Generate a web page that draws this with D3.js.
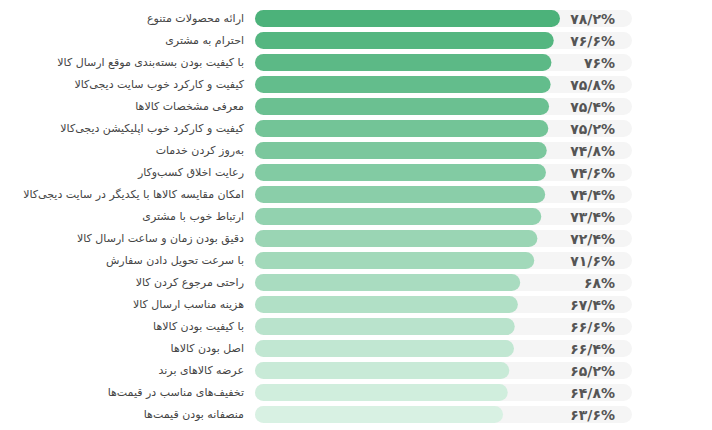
<!DOCTYPE html>
<html><head><meta charset="utf-8">
<script src="https://cdn.jsdelivr.net/npm/d3@7/dist/d3.min.js"></script>
<style>html,body{margin:0;padding:0;background:#fff;}svg{display:block;}</style>
</head><body>
<svg id="chart" width="712" height="430"></svg>
<script>
const categories = [
  "ارائه محصولات متنوع",
  "احترام به مشتری",
  "با کیفیت بودن بسته‌بندی موقع ارسال کالا",
  "کیفیت و کارکرد خوب سایت دیجی‌کالا",
  "معرفی مشخصات کالاها",
  "کیفیت و کارکرد خوب اپلیکیشن دیجی‌کالا",
  "به‌روز کردن خدمات",
  "رعایت اخلاق کسب‌وکار",
  "امکان مقایسه کالاها با یکدیگر در سایت دیجی‌کالا",
  "ارتباط خوب با مشتری",
  "دقیق بودن زمان و ساعت ارسال کالا",
  "با سرعت تحویل دادن سفارش",
  "راحتی مرجوع کردن کالا",
  "هزینه مناسب ارسال کالا",
  "با کیفیت بودن کالاها",
  "اصل بودن کالاها",
  "عرضه کالاهای برند",
  "تخفیف‌های مناسب در قیمت‌ها",
  "منصفانه بودن قیمت‌ها"
];
const values = [78.2, 76.6, 76, 75.8, 75.4, 75.2, 74.8, 74.6, 74.4, 73.4, 72.4, 71.6, 68, 67.4, 66.6, 66.4, 65.2, 64.8, 63.6];

const svg = d3.select("#chart");
const x = d3.scaleLinear().domain([0, 100]).range([255, 645]);
const y = d3.scaleBand().domain(categories).range([7.5, 425.5]).paddingInner(0.23).paddingOuter(0.115);
const color = d3.scaleLinear().domain([0, categories.length - 1]).range(["#4cb27a", "#d8f1e3"]).interpolate(d3.interpolateRgb);
const trackEnd = 632;
const bh = y.bandwidth();

const fa = s => s.replace(/[0-9]/g, d => "۰۱۲۳۴۵۶۷۸۹"[+d]).replace(".", "/");

const rows = svg.selectAll("g.row").data(categories).join("g").attr("class", "row");

rows.append("rect")
  .attr("x", x(0)).attr("y", d => y(d))
  .attr("width", trackEnd - x(0)).attr("height", bh)
  .attr("rx", bh / 2).attr("fill", "#f5f5f5");

rows.append("rect")
  .attr("x", x(0)).attr("y", d => y(d))
  .attr("width", (d, i) => x(values[i]) - x(0)).attr("height", bh)
  .attr("rx", bh / 2).attr("fill", (d, i) => color(i));

rows.append("text")
  .attr("x", 244).attr("y", d => y(d) + bh / 2)
  .attr("dy", "0.35em").attr("text-anchor", "end")
  .attr("font-family", "'DejaVu Sans', sans-serif").attr("font-size", 11)
  .attr("fill", "#444")
  .text(d => d);

rows.append("text")
  .attr("x", 615).attr("y", d => y(d) + bh / 2)
  .attr("dy", "0.38em").attr("text-anchor", "end")
  .attr("font-family", "'DejaVu Sans', sans-serif").attr("font-size", 14).attr("font-weight", "bold")
  .attr("fill", "#555").attr("direction", "ltr")
  .text((d, i) => fa(String(values[i])) + "%");
</script>
</body></html>
